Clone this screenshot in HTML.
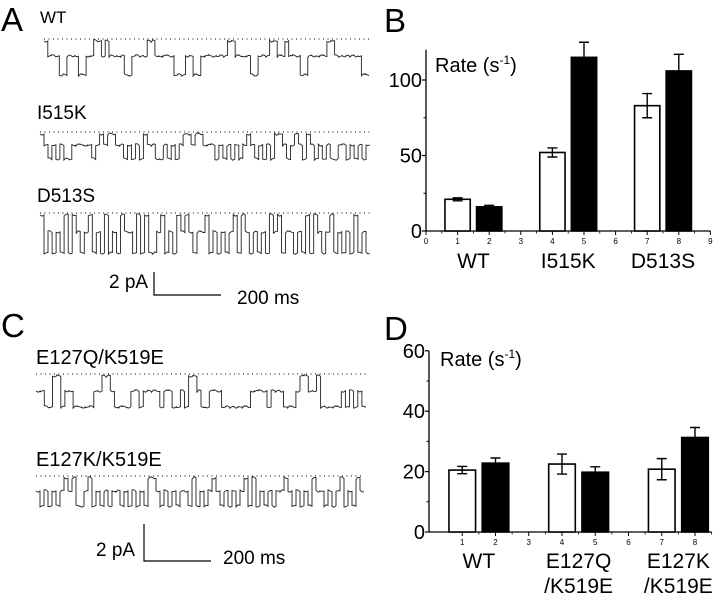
<!DOCTYPE html>
<html><head><meta charset="utf-8">
<style>
html,body{margin:0;padding:0;background:#fff;}
svg{display:block;font-family:"Liberation Sans",Arial,sans-serif;}
</style></head>
<body>
<svg id="fig" width="720" height="595" viewBox="0 0 720 595" xmlns="http://www.w3.org/2000/svg">
<g>
<text x="1" y="31" font-size="33">A</text>
<text x="40" y="23" font-size="17">WT</text>
<text x="37" y="119" font-size="19">I515K</text>
<text x="37" y="202" font-size="19">D513S</text>
<g id="tracesA"></g>
<text x="109" y="288" font-size="19">2 pA</text>
<path d="M154 272 V295 H221" fill="none" stroke="#000" stroke-width="1.2"/>
<text x="237" y="304" font-size="19">200 ms</text>
</g>
<g>
<text x="1" y="337" font-size="33">C</text>
<text x="36" y="364" font-size="20">E127Q/K519E</text>
<text x="36" y="466" font-size="20">E127K/K519E</text>
<g id="tracesC"></g>
<text x="96" y="556" font-size="19">2 pA</text>
<path d="M144 524 V561 H211" fill="none" stroke="#000" stroke-width="1.2"/>
<text x="223" y="564" font-size="19">200 ms</text>
</g>
<text x="384" y="32" font-size="33">B</text>
<text x="384" y="340" font-size="33">D</text>
<g id="chartB"></g>
<g id="chartD"></g>
</svg>
<script>
// ----- Panel B data -----
const bCategories = ["WT","I515K","D513S"];
const bOpenVals = [21, 52, 83];
const bOpenErr = [1, 3, 8];
const bClosedVals = [16, 115, 106];
const bClosedErr = [1, 10, 11];
const bYTicks = [0, 50, 100];
const bXTicks = [0,1,2,3,4,5,6,7,8,9];
// ----- Panel D data -----
const dCategories = [["WT"],["E127Q","/K519E"],["E127K","/K519E"]];
const dOpenVals = [20.5, 22.5, 20.8];
const dOpenErr = [1.2, 3.3, 3.5];
const dClosedVals = [22.8, 19.8, 31.3];
const dClosedErr = [1.7, 1.8, 3.3];
const dYTicks = [0, 20, 40, 60];
const dXTicks = [1,2,3,4,5,6,7,8];
// ----- Trace level sequences (0=closed/top, 1=sublevel, 2=full) -----
const traceWT = "0111221112211001011112211110011111222112211111110011112211100110111221111100111111122";
const traceI515K = "01212122111112101001121212011221212100100111212121210121212001210120121212211212121";
const traceD513S = "0212120201210212021201120202210212010121102121210201212120102112120201210212120212";
const traceE127Q = "11220021122222110012222112111121122120012211122222221111211122210011022222121212";
const traceE127K = "1212121010221021212112121212001212121120212101212121020212121101212120112121021201";

const NS="http://www.w3.org/2000/svg";
function mk(parent,tag,attrs){const e=document.createElementNS(NS,tag);for(const k in attrs)e.setAttribute(k,attrs[k]);parent.appendChild(e);return e;}

function drawTrace(parent,name,seq,x0,x1,yTop,yMid,yLow){
  const dl=mk(parent,"line",{x1:x0,x2:x1,y1:yTop,y2:yTop,stroke:"#000","stroke-width":1,"stroke-dasharray":"1 3.5"});
  
  
  const levels=[yTop+2,yMid,yLow];
  const w=(x1-x0)/seq.length;
  let d="";
  for(let i=0;i<seq.length;i++){
    const y=levels[+seq[i]];
    const xa=x0+i*w, xb=xa+w;
    const n1=Math.sin(i*2.3)*1.2, n2=Math.cos(i*1.7)*1.2;
    d+=(i===0?"M":"L")+xa.toFixed(1)+" "+(y+n1).toFixed(1)+" L"+(xa+w/2).toFixed(1)+" "+(y+n2).toFixed(1)+" L"+xb.toFixed(1)+" "+(y-n1*0.5).toFixed(1)+" ";
  }
  const p=mk(parent,"path",{d:d,fill:"none",stroke:"#222","stroke-width":0.9});
  
  
}
const gA=document.getElementById("tracesA");
drawTrace(gA,"wt-trace",traceWT,44,369,39,56,75);
drawTrace(gA,"i515k-trace",traceI515K,40,370,132,145,159);
drawTrace(gA,"d513s-trace",traceD513S,40,370,213,232,253);
const gC=document.getElementById("tracesC");
drawTrace(gC,"e127q-trace",traceE127Q,36,366,374,391,407);
drawTrace(gC,"e127k-trace",traceE127K,36,364,476,491,506);

function drawChart(g,prefix,ox,oy,ux,uy,xMax,yMax,yTicks,xTicks,openV,openE,closedV,closedE,cats,catY,titleX,titleY){
  const X=v=>ox+v*ux, Y=v=>oy-v*uy;
  let a=mk(g,"line",{x1:ox,x2:X(xMax),y1:oy,y2:oy,stroke:"#000","stroke-width":1.3});
  
  
  a=mk(g,"line",{x1:ox,x2:ox,y1:oy,y2:Y(yMax),stroke:"#000","stroke-width":1.3});
  
  
  yTicks.forEach(t=>{
    mk(g,"line",{x1:ox-4,x2:ox,y1:Y(t),y2:Y(t),stroke:"#000","stroke-width":1.2});
    const tx=mk(g,"text",{x:ox-4,y:Y(t)+7,"font-size":20,"text-anchor":"end"});
    tx.textContent=t;
    
    
  });
  for(let i=0;i<yTicks.length-1;i++){const m=(yTicks[i]+yTicks[i+1])/2;mk(g,"line",{x1:ox-2.5,x2:ox,y1:Y(m),y2:Y(m),stroke:"#000","stroke-width":1});}
  xTicks.forEach(t=>{
    mk(g,"line",{x1:X(t),x2:X(t),y1:oy,y2:oy+4,stroke:"#000","stroke-width":1});
    mk(g,"line",{x1:X(t+0.5),x2:X(t+0.5),y1:oy,y2:oy+2.5,stroke:"#000","stroke-width":0.8});
    const tx=mk(g,"text",{x:X(t),y:oy+13,"font-size":8,"text-anchor":"middle"});
    tx.textContent=t;
    
    
  });
  const bw=0.8*ux;
  function bar(pos,v,e,fill,name){
    const r=mk(g,"rect",{x:X(pos)-bw/2,y:Y(v),width:bw,height:v*uy,fill:fill,stroke:"#000","stroke-width":1.6});
    
    
    const eb=mk(g,"path",{d:`M${X(pos)} ${Y(v-(fill==="#fff"?e:0))} V${Y(v+e)} M${X(pos)-5} ${Y(v+e)} H${X(pos)+5}`+(fill==="#fff"?` M${X(pos)-5} ${Y(v-e)} H${X(pos)+5}`:""),stroke:"#000","stroke-width":1.4,fill:"none"});
    
    
  }
  for(let i=0;i<openV.length;i++){
    bar(1+3*i,openV[i],openE[i],"#fff",prefix+"-bar-open-"+i);
    bar(2+3*i,closedV[i],closedE[i],"#000",prefix+"-bar-closed-"+i);
    const lines=Array.isArray(cats[i])?cats[i]:[cats[i]];
    lines.forEach((ln,j)=>{
      const tx=mk(g,"text",{x:X(1.5+3*i),y:catY+j*25,"font-size":21,"text-anchor":"middle"});
      tx.textContent=ln;
      
      
    });
  }
  const t=mk(g,"text",{x:titleX,y:titleY,"font-size":20});
  t.innerHTML='Rate (s<tspan dy="-8" font-size="12">-1</tspan><tspan dy="8">)</tspan>';
  
  
}
drawChart(document.getElementById("chartB"),"chart-b",426,231,31.6,1.51,9,120,bYTicks,bXTicks,bOpenVals,bOpenErr,bClosedVals,bClosedErr,bCategories,268,435,72);
drawChart(document.getElementById("chartD"),"chart-d",429,532,33.25,3.02,8.5,60,dYTicks,dXTicks,dOpenVals,dOpenErr,dClosedVals,dClosedErr,dCategories,568,440,366);
</script>
</body></html>
